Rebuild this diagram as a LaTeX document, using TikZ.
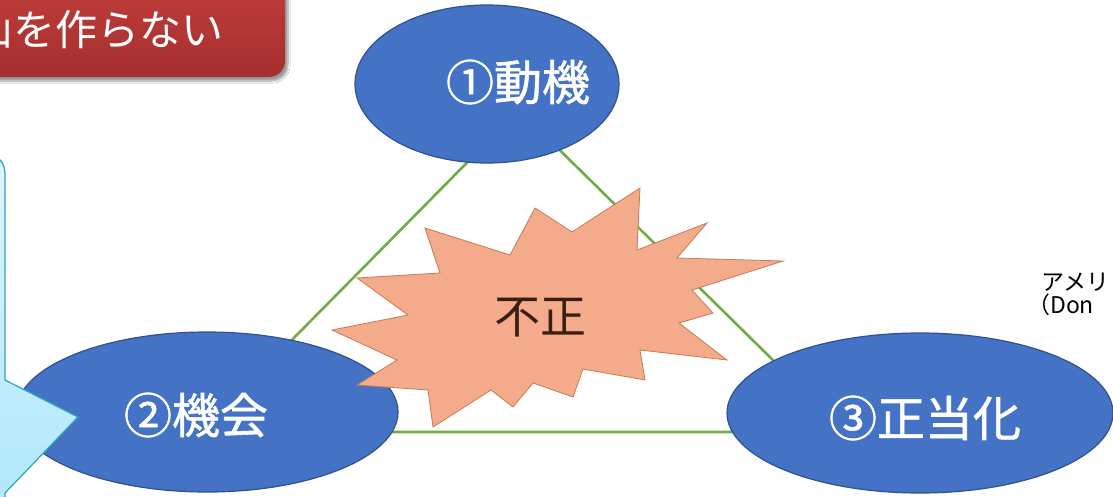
\documentclass[tikz,border=0pt]{standalone}
\usepackage{fontspec}
\setmainfont{Noto Sans CJK JP}
\newfontfamily\labelfont{Noto Sans CJK JP}[FakeBold=1.2]
\usetikzlibrary{shapes.geometric,shadows.blur}
\definecolor{ellblue}{HTML}{4472C4}
\definecolor{ellborder}{HTML}{2F528F}
\definecolor{trigreen}{HTML}{70AD47}
\definecolor{burstfill}{HTML}{F4AB8B}
\definecolor{burstdraw}{HTML}{C77B55}
\definecolor{redtop}{HTML}{C8413D}
\definecolor{redbot}{HTML}{A32F2E}
\definecolor{calltop}{HTML}{DDF4FF}
\definecolor{callbot}{HTML}{AEE8FA}
\definecolor{callborder}{HTML}{2FA3BC}
\definecolor{fuseitext}{HTML}{3A1E12}
\begin{document}
\begin{tikzpicture}[x=1pt,y=-1pt,
  factor/.style={ellipse, fill=ellblue, draw=ellborder, line width=1.2pt, inner sep=0pt},
  factortext/.style={text=white, inner sep=0pt, font=\labelfont\fontsize{48}{52}\selectfont},
  side/.style={trigreen, line width=2.6pt},
  notetext/.style={anchor=west, inner sep=0pt, font=\fontsize{23}{26}\selectfont}]
\useasboundingbox (0,0) rectangle (1113,496);
\clip (0,0) rectangle (1113,496);
\fill[white] (0,0) rectangle (1113,496);

% title box
\path[blur shadow={shadow xshift=3pt,shadow yshift=-4pt,shadow blur steps=6},
      top color=redtop, bottom color=redbot, rounded corners=16pt]
      (-60,-40) rectangle (285,77);
\node[text=white, inner sep=0pt, anchor=west, font=\fontsize{42}{46}\selectfont] (title) at (-29,30) {山を作らない};

% triangle
\coordinate (tA) at (519,110);
\coordinate (tB) at (201,432);
\coordinate (tC) at (846,432);
\draw[side] (tA) -- (tB) -- (tC) -- cycle;

% factors
\node[factor, minimum width=264pt, minimum height=158pt] (motive) at (487,84) {};
\node[factor, minimum width=382pt, minimum height=160pt] (chance) at (207,412) {};
\node[factor, minimum width=386pt, minimum height=160pt] (justify) at (920,413) {};
\node[factortext] (motiveT) at (518,82) {①動機};
\node[factortext] (chanceT) at (196,415) {②機会};
\node[factortext] (justifyT) at (925,418) {③正当化};

% starburst
\filldraw[fill=burstfill, draw=burstdraw, line width=0.8pt, line join=miter]
  (332,330) -- (408,315) -- (357,278) -- (440,273) -- (425,228) -- (510,255)
  -- (535,208) -- (572,232) -- (640,188) -- (637,250) -- (707,223) -- (677,258)
  -- (783,261) -- (692,290) -- (713,313) -- (679,323) -- (727,360) -- (640,350)
  -- (645,380) -- (583,369) -- (573,397) -- (533,383) -- (513,407) -- (491,390)
  -- (433,427) -- (428,390) -- (357,385) -- (397,360) -- cycle;
\node[text=fuseitext, inner sep=0pt, font=\fontsize{46}{50}\selectfont] (fusei) at (540,318) {不正};

% callout
\path[draw=callborder, line width=1.2pt, top color=calltop, bottom color=callbot]
  (-60,155) -- (-14,155) .. controls (-2,155) and (5,162) .. (5,174)
  -- (5,380) -- (78,417) -- (5,493) -- (5,520) -- (-60,520) -- cycle;

% note
\node[notetext] (noteA) at (1041,282) {アメリ};
\node[notetext] (noteB) at (1027,305) {（Don};
\end{tikzpicture}
\end{document}
